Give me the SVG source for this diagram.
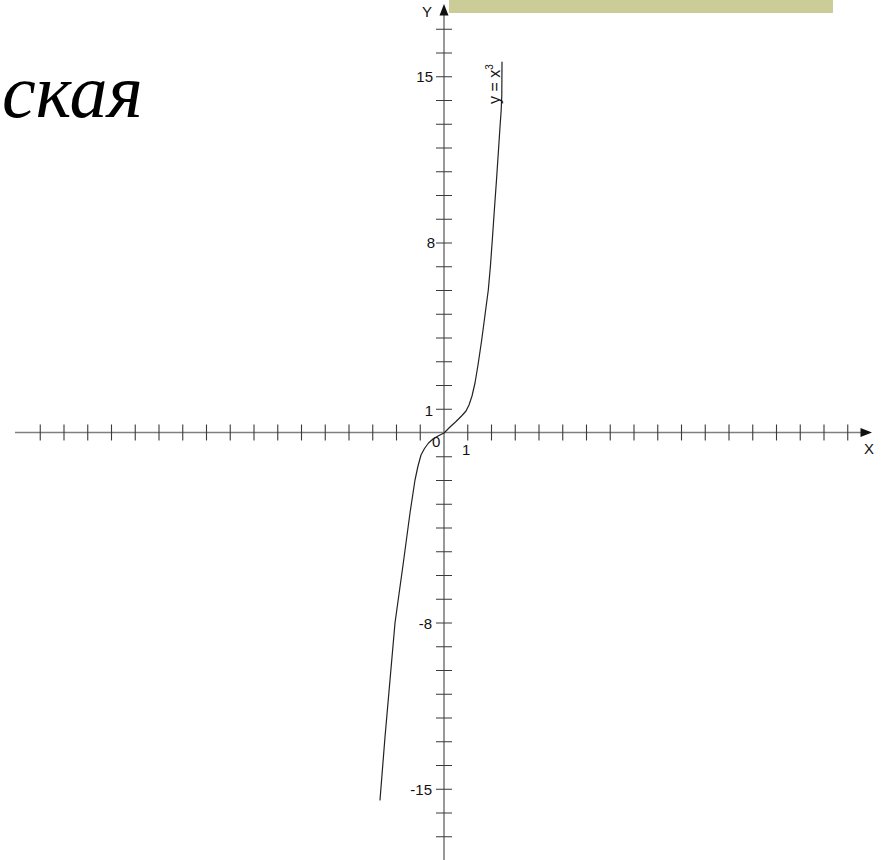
<svg xmlns="http://www.w3.org/2000/svg" width="881" height="860" viewBox="0 0 881 860">
<style>
.axis{stroke:#7f7f7f;stroke-width:1.6;fill:none}
.tick{stroke:#3a3a3a;stroke-width:1.1;fill:none}
.num{font-family:"Liberation Sans",Arial,sans-serif;font-size:15px;fill:#111}
.curve{stroke:#222;stroke-width:1.2;fill:none;stroke-linejoin:round;stroke-linecap:round}
</style>
<rect id="bar" x="449" y="0" width="384" height="13" fill="#cccc99"/>
<g id="title"><text x="2" y="117" font-family="'Liberation Serif','Times New Roman',serif" font-style="italic" font-size="76" fill="#000">ская</text></g>
<g id="axes">
<line class="axis" x1="444" y1="12" x2="444" y2="860"/>
<line class="axis" x1="15" y1="432.5" x2="864" y2="432.5"/>
<polygon points="444,4 439.5,15.5 448.5,15.5" fill="#111"/>
<polygon points="872,432.5 860.5,428 860.5,437" fill="#111"/>
</g>
<g id="ticks">
<path class="tick" d="M436 409.25h16M436 385.5h16M436 361.75h16M436 338h16M436 314.25h16M436 290.5h16M436 266.75h16M436 243h16M436 219.25h16M436 195.5h16M436 171.75h16M436 148h16M436 124.25h16M436 100.5h16M436 76.75h16M436 53h16M436 29.25h16M436 456.75h16M436 480.5h16M436 504.25h16M436 528h16M436 551.75h16M436 575.5h16M436 599.25h16M436 623h16M436 646.75h16M436 670.5h16M436 694.25h16M436 718h16M436 741.75h16M436 765.5h16M436 789.25h16M436 813h16M436 836.75h16"/>
<path class="tick" d="M467.75 424.5v16M491.5 424.5v16M515.25 424.5v16M539 424.5v16M562.75 424.5v16M586.5 424.5v16M610.25 424.5v16M634 424.5v16M657.75 424.5v16M681.5 424.5v16M705.25 424.5v16M729 424.5v16M752.75 424.5v16M776.5 424.5v16M800.25 424.5v16M824 424.5v16M847.75 424.5v16M420.25 424.5v16M396.5 424.5v16M372.75 424.5v16M349 424.5v16M325.25 424.5v16M301.5 424.5v16M277.75 424.5v16M254 424.5v16M230.25 424.5v16M206.5 424.5v16M182.75 424.5v16M159 424.5v16M135.25 424.5v16M111.5 424.5v16M87.75 424.5v16M64 424.5v16M40.25 424.5v16"/>
</g>
<g id="labels">
<text class="num" x="422" y="17">Y</text>
<text class="num" x="864" y="454">X</text>
<text class="num" x="433" y="82" text-anchor="end">15</text>
<text class="num" x="435" y="248" text-anchor="end">8</text>
<text class="num" x="433" y="416" text-anchor="end">1</text>
<text class="num" x="432" y="447">0</text>
<text class="num" x="462" y="455">1</text>
<text class="num" x="432" y="629" text-anchor="end">-8</text>
<text class="num" x="432" y="795" text-anchor="end">-15</text>
</g>
<g id="curve">
<path class="curve" d="M502 62 L501.8 95 L501.2 110 L500 127 L498.5 150 L496.7 177 L494.5 208 L492.3 240 L490.5 265 L488.3 290 L485 315 L481.7 340 L478 365 L475 383 L472 396 L469 405 L466 411 L462 415.5 L456 421.5 L450 427 L444 433 L438 436 L433.3 438.8 L428.5 443 L424.5 448.5 L421 455 L418 466 L415 480 L410 513 L403.3 563 L395 623 L390 680 L385 737 L380 800"/>
<text x="500" y="104" transform="rotate(-90 500 104)" font-family="'Liberation Sans',Arial,sans-serif" font-size="16" fill="#111">y = x<tspan font-size="10" dy="-7">3</tspan></text>
</g>
</svg>
